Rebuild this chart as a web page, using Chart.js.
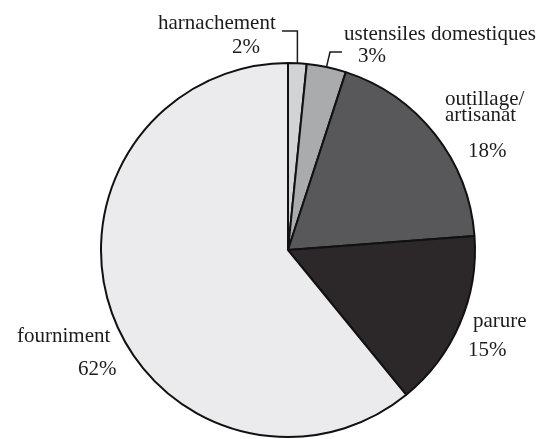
<!DOCTYPE html>
<html>
<head>
<meta charset="utf-8">
<script src="https://cdn.jsdelivr.net/npm/chart.js@4"></script>
<style>
  html, body { margin: 0; padding: 0; background: #fff; }
  canvas { display: block; }
</style>
</head>
<body>
<canvas id="pieChart" width="542" height="439"></canvas>
<script>
// slices, clockwise from 12 o'clock
const categories = ['harnachement', 'ustensiles domestiques', 'outillage/\nartisanat', 'parure', 'fourniment'];
const shares = [1.6, 3.4, 18.8, 15.3, 60.9];
const pctLabels = ['2%', '3%', '18%', '15%', '62%'];
const sliceColors = ['#d2d3d5', '#a9abad', '#58585a', '#2c2728', '#ebebed'];

// label placement, relative to the pie centre (left aligned, baseline)
const labelPos = [
    { name: [-130, -221], pct: [-56, -197], leader: [[0, -219], [-6, -219]] },
    { name: [56, -210], pct: [70, -188], leader: [[42, -198], [54, -198]] },
    { name: [157, -145], pct: [180, -93] },
    { name: [185, 77], pct: [180, 106] },
    { name: [-271, 92], pct: [-210, 125] }
];

const pieLabels = {
    id: 'pieLabels',
    afterDraw(chart) {
        const ctx = chart.ctx;
        const arcs = chart.getDatasetMeta(0).data;
        ctx.save();
        ctx.font = '21px "Liberation Serif", "Times New Roman", serif';
        ctx.fillStyle = '#1c1c1c';
        ctx.textAlign = 'left';
        ctx.textBaseline = 'alphabetic';
        ctx.strokeStyle = '#1c1c1c';
        ctx.lineWidth = 1.5;
        arcs.forEach((arc, i) => {
            const p = arc.getProps(['x', 'y', 'startAngle', 'endAngle', 'outerRadius'], true);
            const cx = p.x, cy = p.y;
            const lp = labelPos[i];
            const lines = categories[i].split('\n');
            lines.forEach((t, k) => ctx.fillText(t, cx + lp.name[0], cy + lp.name[1] + k * 16));
            ctx.fillText(pctLabels[i], cx + lp.pct[0], cy + lp.pct[1]);
            if (lp.leader) {
                const mid = (p.startAngle + p.endAngle) / 2;
                ctx.beginPath();
                ctx.moveTo(cx + Math.cos(mid) * p.outerRadius, cy + Math.sin(mid) * p.outerRadius);
                if (i === 0) {
                    ctx.lineTo(cx + Math.cos(mid) * p.outerRadius, cy + lp.leader[0][1]);
                } else {
                    ctx.lineTo(cx + lp.leader[0][0], cy + lp.leader[0][1]);
                }
                ctx.lineTo(cx + lp.leader[1][0], cy + lp.leader[1][1]);
                ctx.stroke();
            }
        });
        ctx.restore();
    }
};

const ctx = document.getElementById('pieChart').getContext('2d');
const pieChart = new Chart(ctx, {
    type: 'pie',
    data: {
        labels: categories,
        datasets: [{
            data: shares,
            backgroundColor: sliceColors,
            borderColor: '#111',
            borderWidth: 2
        }]
    },
    options: {
        responsive: false,
        animation: false,
        layout: { padding: { top: 62, bottom: 1, left: 100, right: 66 } },
        plugins: {
            legend: { display: false },
            tooltip: { enabled: false }
        }
    },
    plugins: [pieLabels]
});
</script>
</body>
</html>
